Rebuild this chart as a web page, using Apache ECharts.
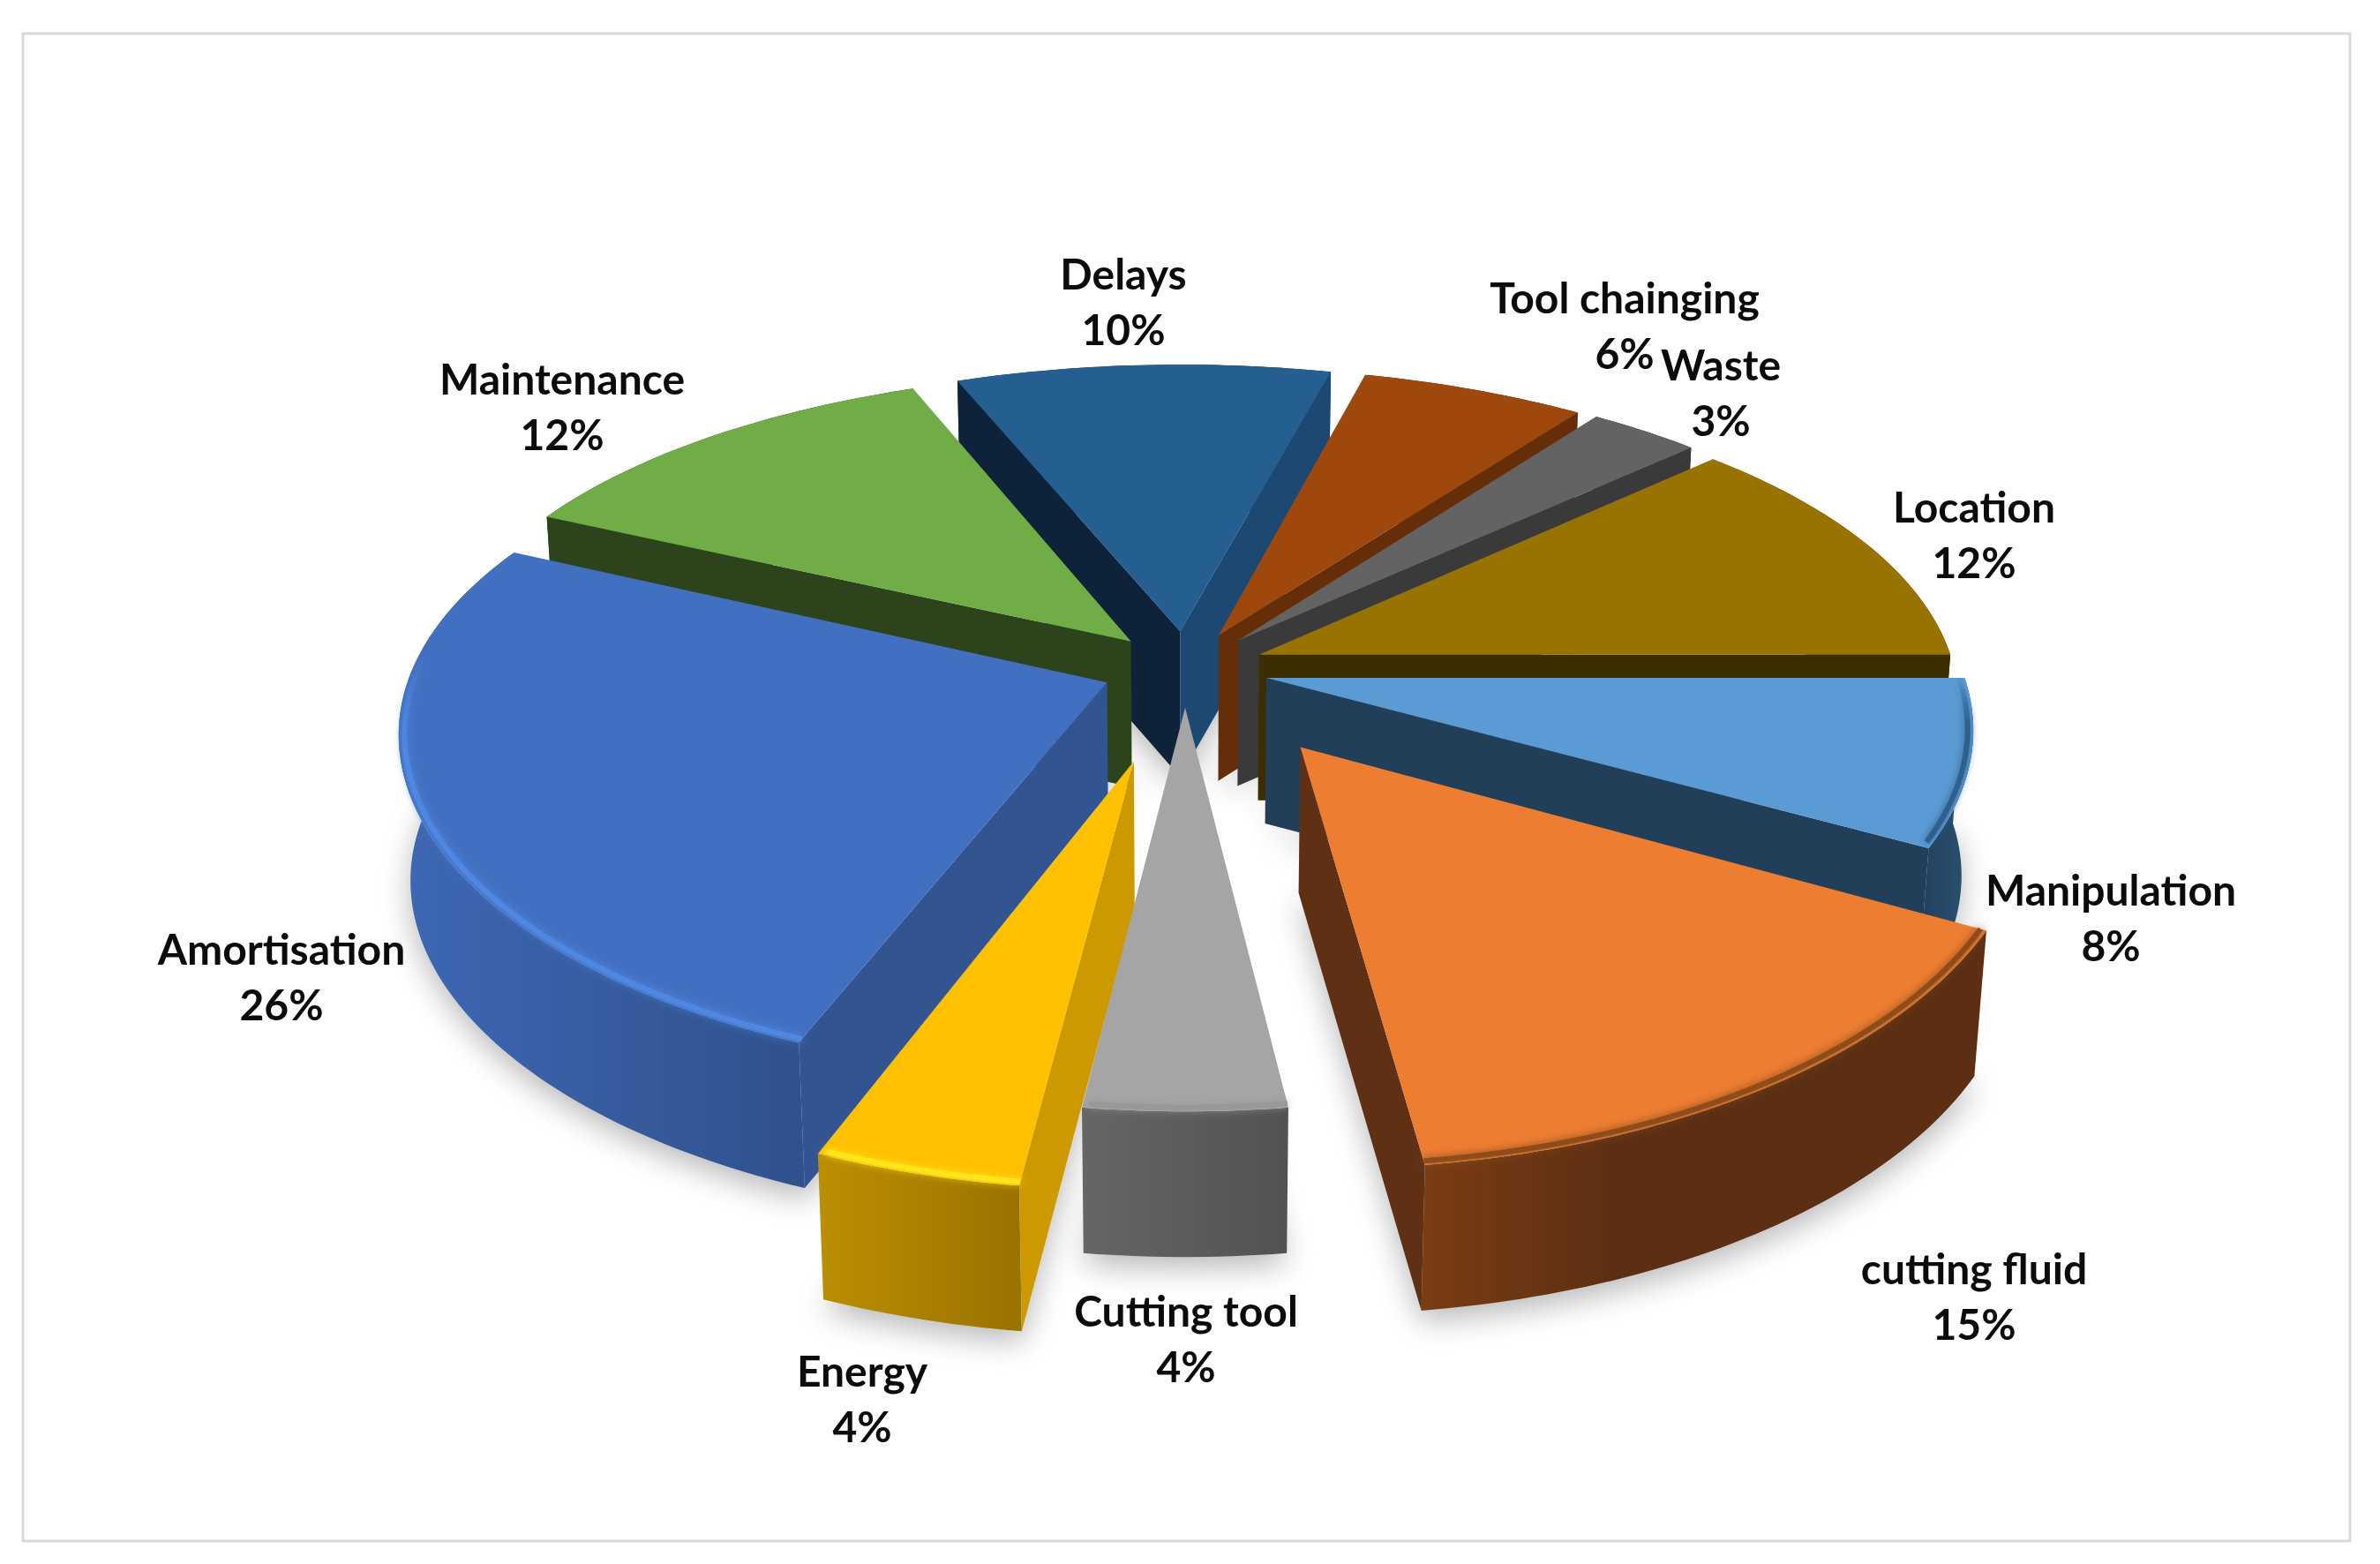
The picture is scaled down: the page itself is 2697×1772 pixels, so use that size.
<!DOCTYPE html>
<html><head><meta charset="utf-8">
<style>html,body{margin:0;padding:0;background:#fff}#c{width:2697px;height:1772px}</style>
<script src="https://cdn.jsdelivr.net/npm/echarts@6/dist/echarts.min.js"></script>
</head><body><div id="c"></div>
<script>
// data
const categories = ['Delays','Tool chainging','Waste','Location','Manipulation','cutting fluid','Cutting tool','Energy','Amortisation','Maintenance'];
const shares = [10,6,3,12,8,15,4,4,26,12];
// styling / layout (not data)
const explode = [.117,.115,.117,.115,.12,.285,.12,.285,.12,.115];
const paintRank = [0,2,3,4,5,7,9,8,6,1];
const topColor = ['#255E91','#9E480E','#636363','#997300','#5B9BD5','#ED7D31','#A5A5A5','#FFC000','#4270C1','#70AD47'];
const startWall = ['#0E2339','#652E09','#3A3A3A','#3D2E00','#223F59','#5F3013','#5a5a5a','#CC9A00','#325591','#2C431B'];
const endWall = ['#1C4872','#652E09','#3A3A3A','#3D2E00','#223F59','#5F3013','#5a5a5a','#CC9A00','#325591','#2C431B'];
const outerL = ['#1C4872','#652E09','#3A3A3A','#3D2E00','#223F59','#7A3D14','#666666','#BC8E00','#3E68B4','#2C431B'];
const outerR = ['#1C4872','#652E09','#3A3A3A','#3D2E00','#2B5274','#5C2F12','#525252','#997300','#2F518D','#2C431B'];
const outerStop = [1,1,1,1,1,.35,1,1,1,1];
const bevel = [null,null,null,null,'#2F608C','#8F4C1B','#989898','#FFE61A','#4F88E2',null];
const bevelFade = [0,0,0,0,.3,0,0,0,.25,0];
const labelX = [1273,1841,1950,2237,2392,2237,1344,977,319,637];
const labelY = [344,371,447,608,1042,1471,1519,1587,1109,463];
const cx=1343, cy=757, A=788, Px=.14, B=365, Py=.166, H=165, startDeg=-21.6;

const total = shares.reduce((a,b)=>a+b,0);
const cum = []; shares.reduce((a,b,i)=>(cum[i]=a,a+b),0);
const rad = d=>d*Math.PI/180;
function proj(x,y){return [cx+A*x/(1-Px*y), cy+B*y/(1-Py*y)];}
function low(p){return [cx+(p[0]-cx)*.985, p[1]+H];}
function geom(i){
  const a0=startDeg+cum[i]/total*360, a1=startDeg+(cum[i]+shares[i])/total*360, m=(a0+a1)/2, e=explode[i];
  const ox=e*Math.sin(rad(m)), oy=-e*Math.cos(rad(m));
  const rim=(t,r=1)=>proj(ox+r*Math.sin(rad(t)), oy-r*Math.cos(rad(t)));
  const n=Math.max(4,Math.ceil(a1-a0));
  const arc=[]; for(let k=0;k<=n;k++) arc.push(rim(a0+(a1-a0)*k/n));
  return {a0,a1,apex:proj(ox,oy),arc,rim};
}
const data = categories.map((n,i)=>({name:n,value:shares[i]}));

function shadowItem(params){
  const i=params.dataIndex, g=geom(i);
  const pts=[g.apex].concat(g.arc).map(low);
  return {type:'polygon',shape:{points:pts},
    style:{fill:'#e2e2e2',shadowColor:'rgba(0,0,0,0.28)',shadowBlur:34,shadowOffsetY:12}};
}
function faceItem(params,api){
  const i=params.dataIndex, g=geom(i), v=api.value(0);
  const z=paintRank[i]*10, kids=[];
  const arcLow=g.arc.map(low);
  kids.push({type:'polygon',z2:z,shape:{points:g.arc.concat(arcLow.slice().reverse())},
    style:{fill:{type:'linear',x:0,y:0,x2:1,y2:0,colorStops:[{offset:0,color:outerL[i]},{offset:outerStop[i],color:outerR[i]},{offset:1,color:outerR[i]}]},stroke:null}});
  const wall=(p,col)=>kids.push({type:'polygon',z2:z+1,shape:{points:[g.apex,p,low(p),low(g.apex)]},style:{fill:col}});
  if(-Math.sin(rad(g.a0))>0) wall(g.arc[0],startWall[i]);
  if(Math.sin(rad(g.a1))>0) wall(g.arc[g.arc.length-1],endWall[i]);
  kids.push({type:'polygon',z2:z+2,shape:{points:[g.apex].concat(g.arc)},style:{fill:topColor[i]}});
  if(bevel[i]){
    const s=Math.max(g.a0,88), t=Math.min(g.a1,275), pts=[];
    for(let a=s;a<=t;a+=1) pts.push(g.rim(a,.992));
    const stroke = bevelFade[i] ? {type:'linear',x:0,y:0,x2:0,y2:1,colorStops:[{offset:0,color:bevel[i]+'00'},{offset:bevelFade[i],color:bevel[i]},{offset:1,color:bevel[i]}]} : bevel[i];
    kids.push({type:'polyline',z2:z+3,shape:{points:pts},
      style:{fill:null,stroke:stroke,lineWidth:6,lineCap:'butt',shadowColor:bevel[i],shadowBlur:10}});
  }
  kids.push({type:'text',z2:500,style:{text:categories[i]+'\n'+v+'%',x:labelX[i],y:labelY[i],
    align:'center',verticalAlign:'middle',fontFamily:'Lato',fontWeight:700,fontSize:48,lineHeight:63,fill:'#0b0b0b'}});
  return {type:'group',children:kids};
}
const chart=echarts.init(document.getElementById('c'),null,{renderer:'canvas',width:2697,height:1772});
chart.setOption({
  animation:false, backgroundColor:'#fff',
  graphic:[{type:'rect',z:0,shape:{x:26,y:38,width:2637,height:1708},style:{fill:'#fff',stroke:'#d9d9d9',lineWidth:3}}],
  series:[
    {type:'custom',coordinateSystem:'none',silent:true,z:1,data:data,renderItem:shadowItem},
    {type:'custom',coordinateSystem:'none',silent:true,z:2,data:data,renderItem:faceItem}
  ]
});
</script></body></html>
